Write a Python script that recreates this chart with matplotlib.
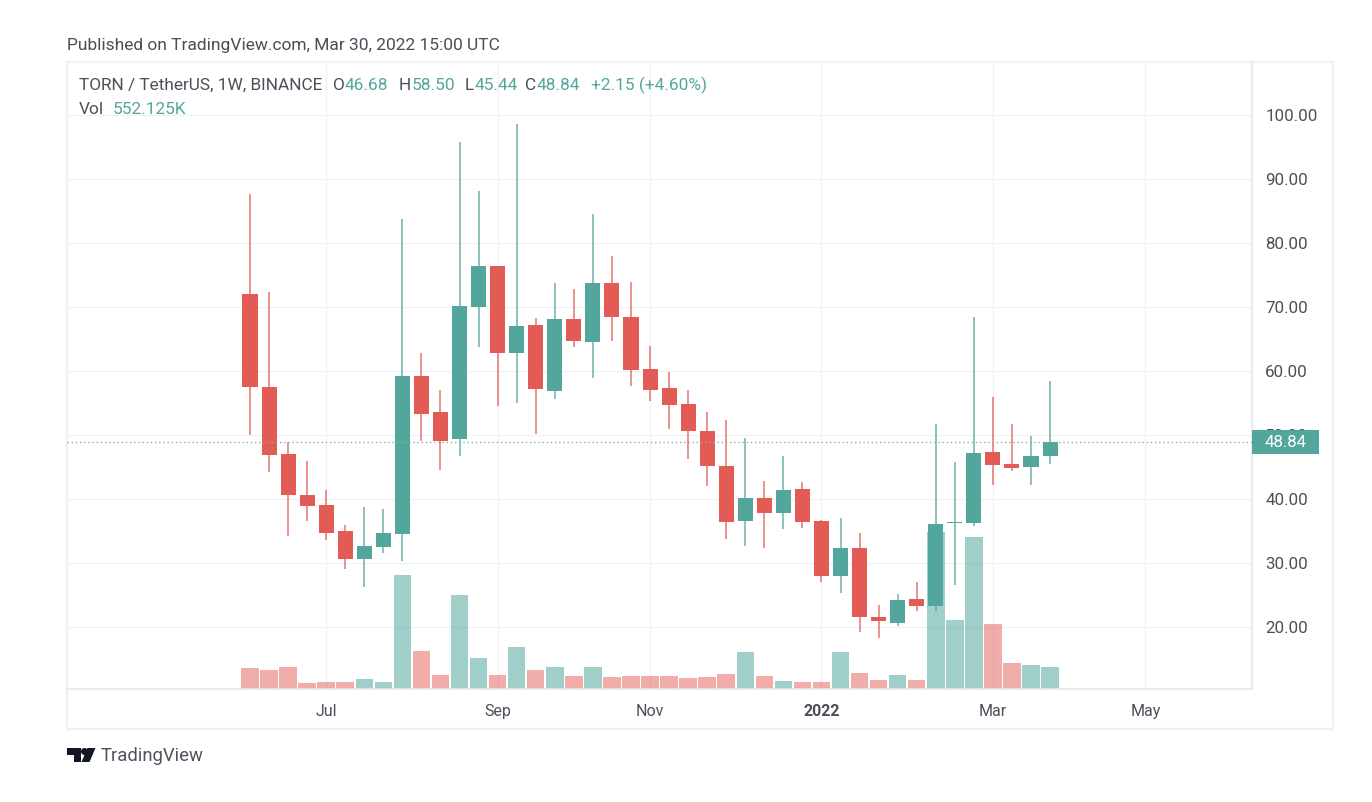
import matplotlib
matplotlib.use("Agg")
import matplotlib.pyplot as plt
from matplotlib.patches import Polygon, Rectangle, Ellipse
import numpy as np

plt.rcParams['font.family'] = ['Roboto', 'DejaVu Sans']

highs = [87.6,72.3,48.95,45.9,41.4,35.9,38.8,38.5,83.75,62.85,57.0,95.75,88.15,76.35,98.55,68.3,73.8,72.85,84.5,78.0,73.95,63.95,59.8,57.0,53.6,52.35,49.6,42.85,46.7,42.65,36.65,37.0,34.65,23.4,25.2,27.0,51.75,45.75,68.5,55.9,51.75,49.8,58.5]
lows = [50.0,44.2,34.2,36.5,33.6,29.1,26.2,31.6,30.35,49.1,44.5,46.7,63.8,54.6,55.05,50.15,55.6,63.8,58.9,64.75,57.65,55.25,50.9,46.3,42.0,33.8,32.7,32.35,35.25,35.4,27.1,25.3,19.25,18.35,20.15,22.5,22.55,26.5,35.85,42.2,44.35,42.2,45.44]
opens = [72.0,57.55,47.0,40.7,39.0,35.0,30.7,32.55,34.5,59.2,53.6,49.3,70.05,76.35,62.75,67.25,56.9,68.1,64.55,73.8,68.5,60.3,57.4,54.85,50.65,45.2,36.55,40.1,37.8,41.55,36.5,27.95,32.3,21.6,20.65,24.3,23.3,36.2,36.2,47.4,45.4,44.95,46.68]
closes = [57.45,46.9,40.6,38.9,34.75,30.7,32.65,34.65,59.2,53.3,49.05,70.15,76.35,62.75,67.05,57.15,68.1,64.75,73.8,68.4,60.15,57.1,54.75,50.6,45.1,36.35,40.1,37.8,41.4,36.35,27.95,32.3,21.6,20.9,24.25,23.3,36.15,36.35,47.25,45.3,44.9,46.7,48.84]
volumes_k = [527,469,552,143,176,176,259,176,2861,961,351,2367,786,351,1047,469,552,319,552,294,319,319,314,276,289,377,929,326,201,176,176,936,409,233,351,233,3948,1724,3823,1632,645,610,552]

price_ticks = [20, 30, 40, 50, 60, 70, 80, 90, 100]
month_positions = [4, 13, 21, 30, 39, 47]
month_labels = ['Jul', 'Sep', 'Nov', '2022', 'Mar', 'May']
last_price = 48.84

W, H = 1372, 802
GREEN, RED = '#53a69b', '#e25c55'
GRID = '#eff1f6'
TXT = '#4c4f59'
HSIZE = 12.45

def fx(x): return x / W
def fy(y): return 1 - y / H

fig = plt.figure(figsize=(W / 100, H / 100), dpi=100, facecolor='white')
fig.patches.append(Rectangle((fx(67), fy(729)), (1333 - 67) / W, (729 - 62) / H, transform=fig.transFigure,
                             fill=False, ec='#eff1f6', lw=1.6))

rect = [fx(67), fy(689), (1252 - 67) / W, (689 - 62) / H]
axg = fig.add_axes(rect, facecolor='none', zorder=0)   # grid, below the volume bars
axv = fig.add_axes(rect, facecolor='none', zorder=1)   # volume
ax = fig.add_axes(rect, facecolor='none', zorder=2)    # candles, price and time scales

x = np.arange(len(opens))
xlim = (-9.606, 52.6)
ylim = (10.31, 108.28)
for a in (ax, axv, axg):
    a.set_xlim(*xlim)

axg.set_ylim(*ylim)
axg.set_yticks(price_ticks)
axg.set_xticks(month_positions)
axg.tick_params(length=0, labelleft=False, labelbottom=False)
axg.grid(True, color=GRID, lw=0.85)
for s in axg.spines.values():
    s.set_visible(False)

axv.set_ylim(0, 15738)
axv.set_yticks([])
axv.set_xticks([])
for s in axv.spines.values():
    s.set_visible(False)
for i, v in enumerate(volumes_k):
    up = closes[i] >= opens[i]
    axv.bar(i, v, width=0.92, color=GREEN if up else RED, alpha=0.55 if up else 0.5, linewidth=0, zorder=3)

ax.set_ylim(*ylim)
ax.set_yticks(price_ticks)
ax.set_yticklabels([f'{t:.2f}' for t in price_ticks])
ax.yaxis.tick_right()
ax.set_xticks(month_positions)
ax.set_xticklabels(month_labels)
ax.tick_params(axis='y', length=0, pad=9.5, labelsize=12.2, labelcolor=TXT)
ax.tick_params(axis='x', length=0, pad=10.5, labelsize=11.5, labelcolor=TXT)
for lab in ax.get_xticklabels():
    if lab.get_text() == '2022':
        lab.set_fontweight('bold')
for name, s in ax.spines.items():
    if name in ('right', 'bottom'):
        s.set_color('#e6e8ee')
        s.set_linewidth(1.2)
    else:
        s.set_visible(False)

ax.axhline(last_price, color='#86aea9', ls=(0, (1, 2)), lw=1, zorder=6)

for i, (o, h, l, c) in enumerate(zip(opens, highs, lows, closes)):
    col = GREEN if c >= o else RED
    ax.vlines(i, l, h, color=col, lw=1.1, alpha=0.85, zorder=4)
ax.bar(x, [max(abs(c - o), 0.2) for o, c in zip(opens, closes)], bottom=[min(o, c) for o, c in zip(opens, closes)],
       width=0.79, color=[GREEN if c >= o else RED for o, c in zip(opens, closes)],
       edgecolor='none', linewidth=0, zorder=5)

# last-price label on the axis
ax.add_patch(Rectangle((1.0, last_price - 1.875), 0.0565, 3.75, transform=ax.get_yaxis_transform(),
                       clip_on=False, fc=GREEN, ec='none', zorder=10))
ax.text((1265 - 67) / 1185, last_price, f'{last_price:.2f}', transform=ax.get_yaxis_transform(),
        color='white', fontsize=12.2, va='center', ha='left', zorder=11, clip_on=False)

def t(px, py, s, color=TXT, size=HSIZE, **kw):
    fig.text(fx(px), fy(py), s, color=color, fontsize=size, va='center', ha='left', **kw)

t(67, 45.5, 'Published on TradingView.com, Mar 30, 2022 15:00 UTC', color='#4a4d57', size=12.55)
t(79, 85, 'TORN / TetherUS, 1W, BINANCE')
hdr_green = '#53a69b'
t(333, 85, 'O'); t(345, 85, '46.68', color=hdr_green)
t(399, 85, 'H'); t(412, 85, '58.50', color=hdr_green)
t(465, 85, 'L'); t(475, 85, '45.44', color=hdr_green)
t(525, 85, 'C'); t(537, 85, '48.84', color=hdr_green)
t(591, 85, '+2.15 (+4.60%)', color=hdr_green)
t(79, 109, 'Vol')
t(113, 109, '552.125K', color=hdr_green)
t(101, 756, 'TradingView', color='#50535e', size=13.3)

# TradingView logo
logo = [
    [(67, 748), (81, 748), (81, 762), (73.5, 762), (73.5, 755), (67, 755)],
    [(81.5, 762), (87.5, 748), (95.5, 748), (89.5, 762)],
]
for pts in logo:
    fig.patches.append(Polygon([(fx(a), fy(b)) for a, b in pts], closed=True, transform=fig.transFigure,
                               fc='#131722', ec='none'))
fig.patches.append(Ellipse((fx(84.5), fy(751.5)), 7 / W, 7 / H, transform=fig.transFigure, fc='#131722', ec='none'))

fig.savefig('out.png', dpi=100, facecolor='white')
